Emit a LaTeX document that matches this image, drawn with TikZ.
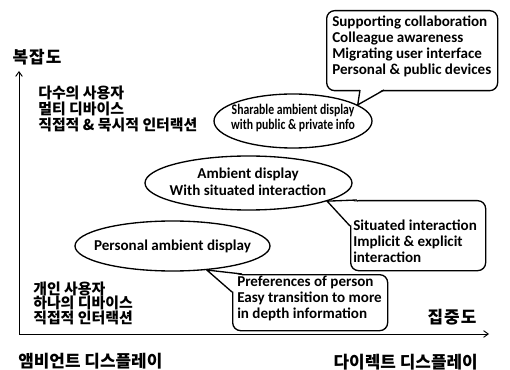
\documentclass[tikz,border=0pt]{standalone}
\usepackage{fontspec}
\setmainfont{Carlito}
\newfontfamily\kr{Noto Sans CJK KR}
\usetikzlibrary{arrows.meta,shapes.geometric}
\begin{document}
\begin{tikzpicture}[x=0.75pt,y=-0.75pt,
  axisline/.style={line width=0.7pt,-{Straight Barb[length=3.5pt,width=5pt]}},
  bub/.style={ellipse,draw,line width=1pt,inner sep=0pt},
  cbox/.style={draw,line width=1pt,rounded corners=6pt,inner sep=0pt,anchor=north west},
  btext/.style={font=\bfseries\fontsize{11.3}{12.75}\selectfont,align=center,inner sep=0pt},
  ctext/.style={font=\bfseries\fontsize{11.3}{12}\selectfont,align=left,inner sep=0pt,anchor=west},
  ktext/.style={font=\kr\bfseries\fontsize{11.2}{11.8}\selectfont,align=left,inner sep=0pt,anchor=west},
  klabel/.style={font=\kr\bfseries\fontsize{12.7}{14}\selectfont,inner sep=0pt},
  ptr/.style={line width=1pt,line join=miter}]
\useasboundingbox (0,0) rectangle (510,370);

% axes
\coordinate (o) at (19,334);
\coordinate (ytip) at (19,71);
\coordinate (xtip) at (489,334);
\draw[axisline] (o) -- (ytip);
\draw[axisline] (o) -- (xtip);

% axis labels
\node[klabel] (ylab) at (37,57) {\addfontfeature{LetterSpace=6}복잡도};
\node[klabel] (xlab) at (452,317) {\addfontfeature{LetterSpace=6}집중도};
\node[klabel,anchor=west] (amb) at (18,361) {앰비언트 디스플레이};
\node[klabel,anchor=east] (dir) at (478,362) {다이렉트 디스플레이};

% Korean blocks
\node[ktext] (ktop) at (38,108.7) {다수의 사용자\\멀티 디바이스\\직접적 \& 묵시적 인터랙션};
\node[ktext,font=\kr\bfseries\fontsize{11.2}{10.9}\selectfont] (kbot) at (33,303) {개인 사용자\\하나의 디바이스\\직접적 인터랙션};

% ellipses
\node[bub,minimum width=118.5pt,minimum height=40.5pt] (e1) at (293,121) {};
\node[bub,minimum width=155.25pt,minimum height=40.5pt] (e2) at (248.5,183) {};
\node[bub,minimum width=146.25pt,minimum height=37.5pt] (e3) at (172.5,246) {};
\node[inner sep=0pt,font=\bfseries\fontsize{11}{10.5}\selectfont] (t1) at (293,119)
  {\scalebox{0.8}[1]{\begin{tabular}{@{}c@{}}Sharable ambient display\\with public \& private info\end{tabular}}};
\node[btext] (t2) at (248,182) {Ambient display\\With situated interaction};
\node[btext] (t3) at (172.5,246) {Personal ambient display};

% callout boxes
\node[cbox,minimum width=128.25pt,minimum height=60pt] (ba) at (326,10) {};
\node[cbox,minimum width=101.25pt,minimum height=52.5pt] (bb) at (350,200) {};
\node[cbox,minimum width=116.25pt,minimum height=42pt] (bc) at (232,274) {};

% pointers
\coordinate (pa1) at (360,90);
\coordinate (pa2) at (384,90);
\fill[white] ([yshift=1pt]pa1) -- (e1.14) -- ([yshift=1pt]pa2) -- cycle;
\draw[ptr] (pa1) -- (e1.14) -- (pa2);

\coordinate (pb1) at (357,200);
\coordinate (pb2) at (350,226);
\fill[white] ([yshift=-1pt]pb1) -- (e2.-13) -- ([xshift=1pt]pb2) -- cycle;
\draw[ptr] (pb1) -- (e2.-13) -- (pb2);

\coordinate (pc1) at (242,274);
\coordinate (pc2) at (232,292);
\fill[white] ([yshift=-1pt]pc1) -- (e3.-35) -- ([xshift=1pt]pc2) -- cycle;
\draw[ptr] (pc1) -- (e3.-35) -- (pc2);

% callout texts
\node[ctext] (ta) at (332,46) {Supporting collaboration\\Colleague awareness\\Migrating user interface\\Personal \& public devices};
\node[ctext] (tb) at (353,241) {Situated interaction\\Implicit \& explicit\\interaction};
\node[ctext] (tc) at (237,298) {Preferences of person\\Easy transition to more\\in depth information};
\end{tikzpicture}
\end{document}
